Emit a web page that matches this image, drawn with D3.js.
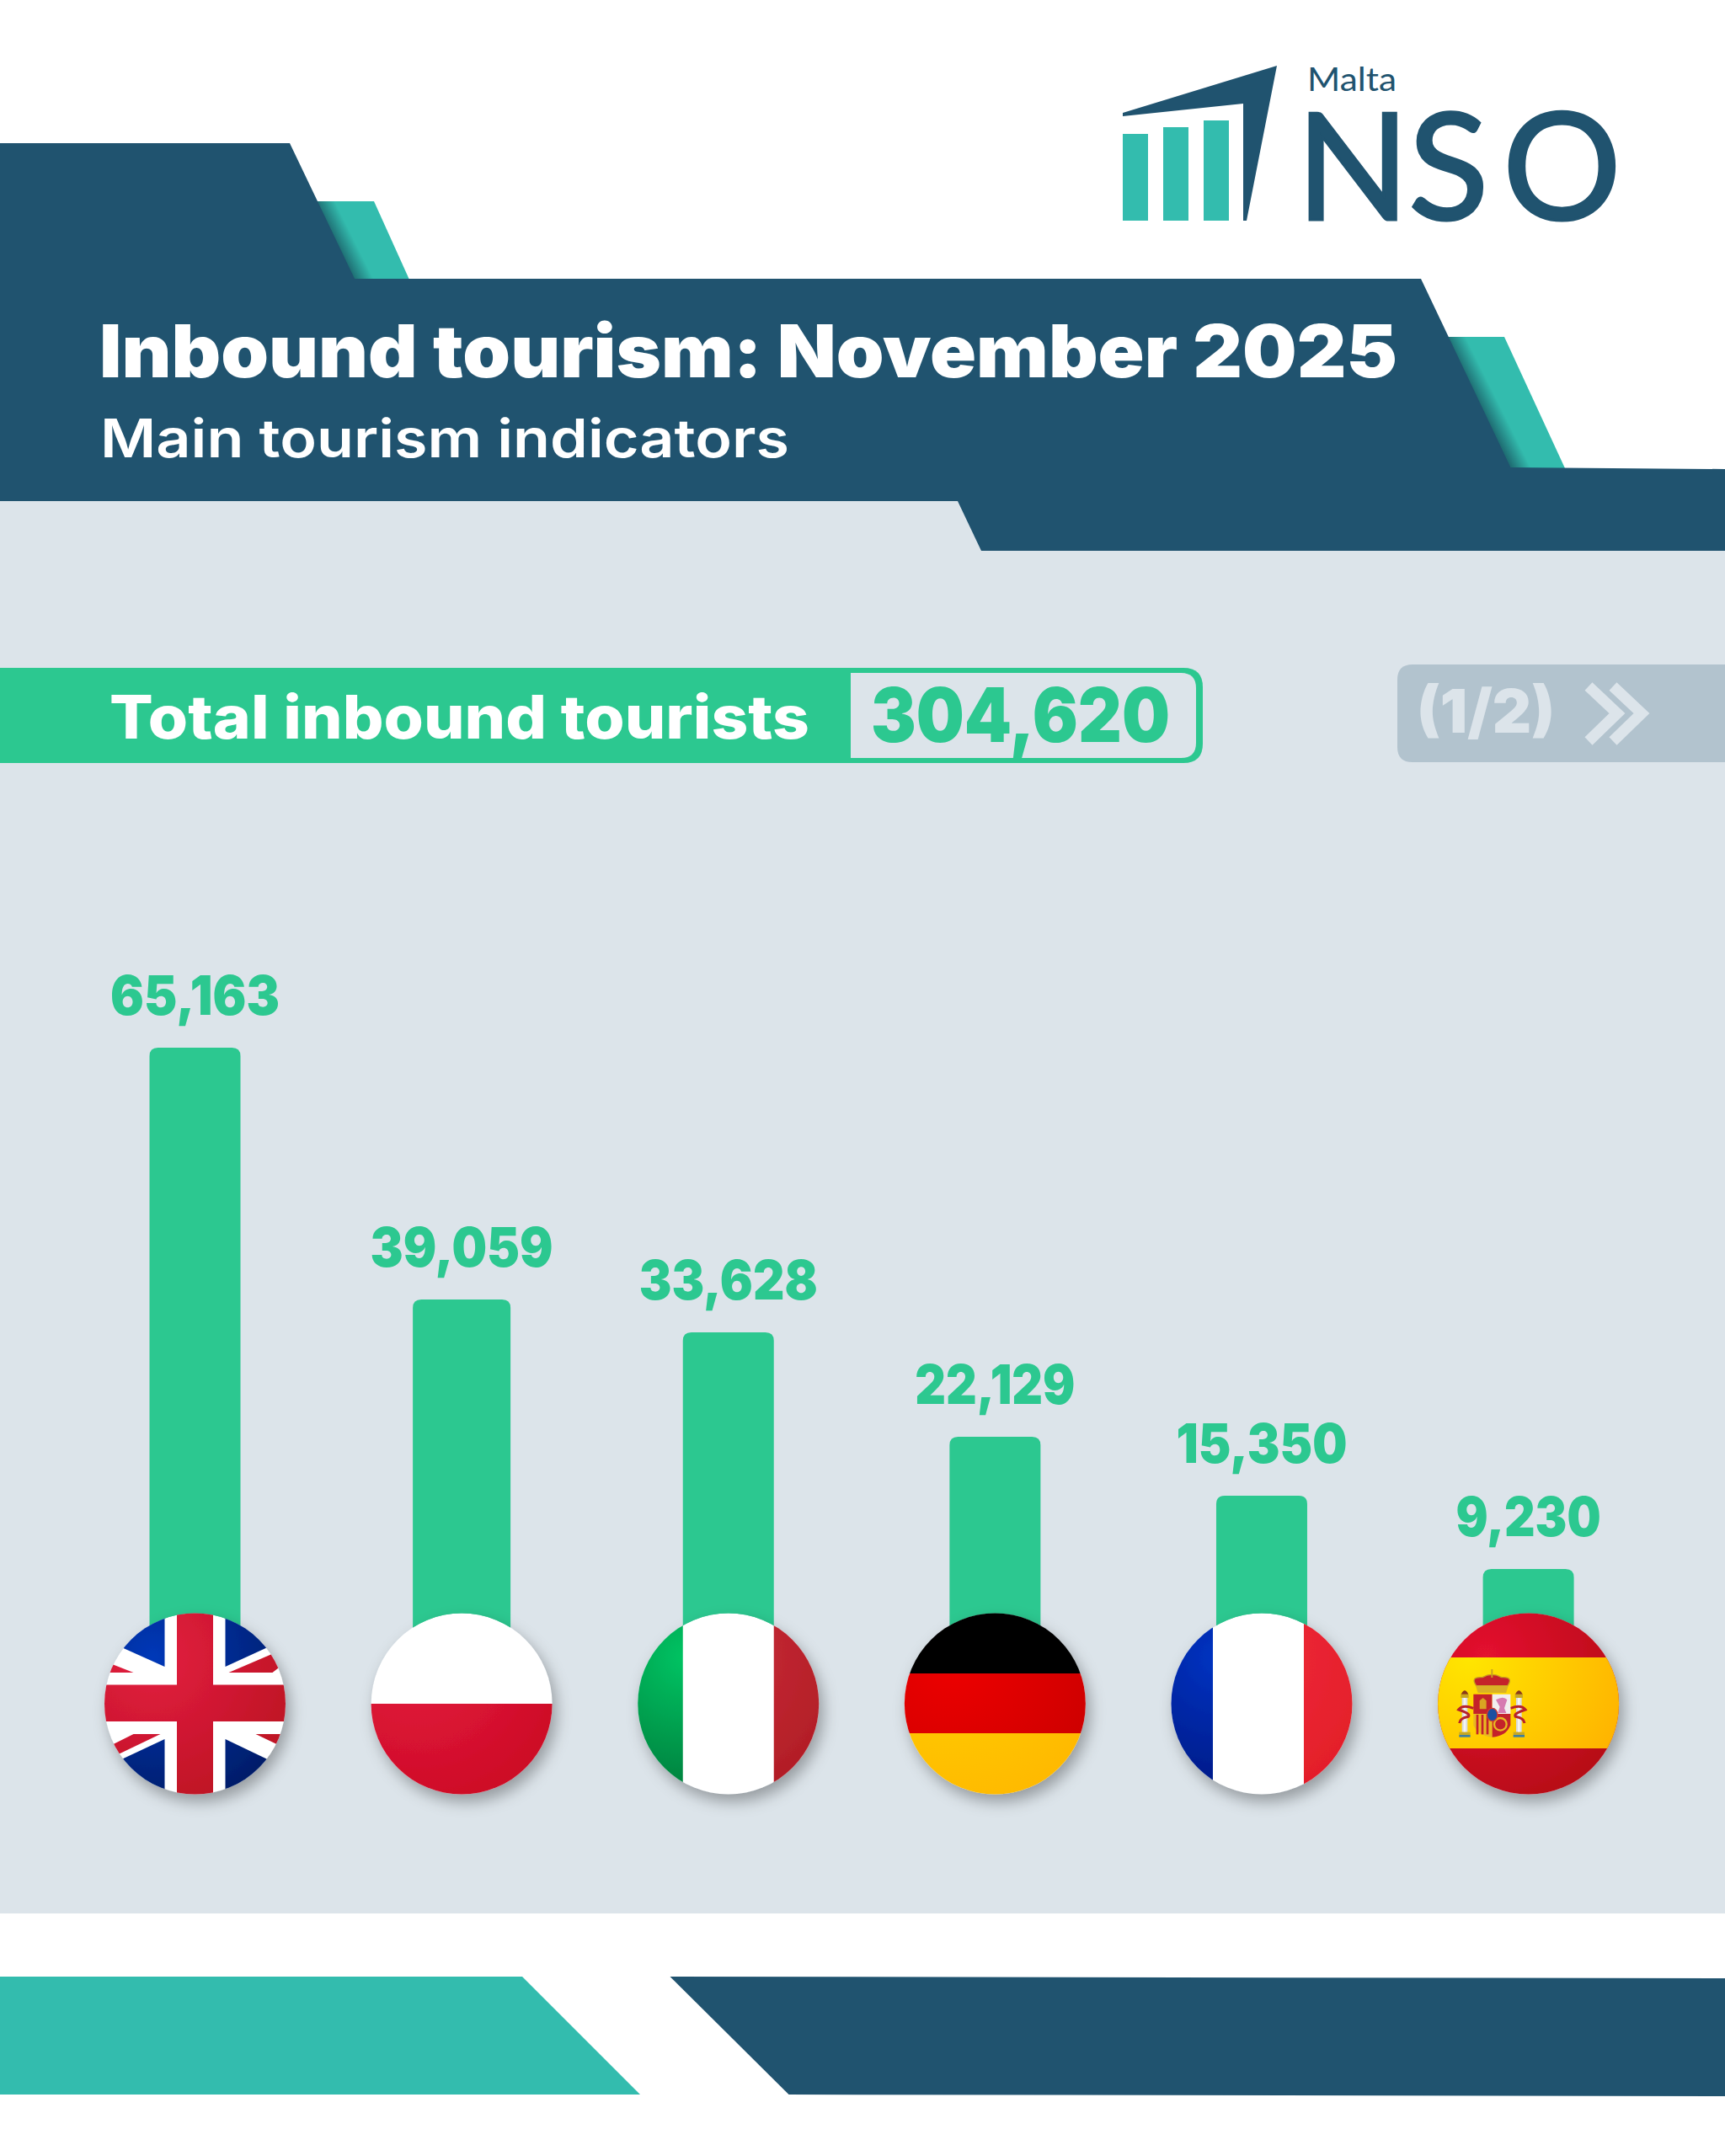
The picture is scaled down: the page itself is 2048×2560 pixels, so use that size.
<!DOCTYPE html>
<html><head><meta charset="utf-8">
<script src="https://cdn.jsdelivr.net/npm/d3@7"></script>
<style>html,body{margin:0;padding:0;background:#fff}svg{display:block}</style>
</head><body><div id="chart"></div>
<script>
// ---- data ----
const countries = ["United Kingdom","Poland","Italy","Germany","France","Spain"];
const tourists  = [65163,39059,33628,22129,15350,9230];           // printed labels
// Bar lengths as drawn in the reference, in tourists: its bars are not strictly proportional to the labels.
const drawnBars = [65163,39047,35639,24807,18693,11093];
const totalLabel = "Total inbound tourists";
const totalValue = 304620;
const titleText = "Inbound tourism: November 2025";
const subtitleText = "Main tourism indicators";
const pageLabel = "(1/2)";

const FONT = "Inter, 'Noto Sans', sans-serif";
const DARK="#20536f", TEAL="#33bcae", GREEN="#2cc890", GREY="#dce4ea";

const svg = d3.select("#chart").append("svg").attr("width",2048).attr("height",2560);
const defs = svg.append("defs");
const line = d3.line();
const poly = (p,fill,parent=svg)=>parent.append("path").attr("d",line(p)+"Z").attr("fill",fill);

function text(str,x,y,size,weight,fill,width,anchor="start",parent=svg){
  const t=parent.append("text").attr("x",x).attr("y",y).attr("font-family",FONT)
    .attr("font-size",size).attr("font-weight",weight).attr("fill",fill).attr("text-anchor",anchor).text(str);
  if(width) t.attr("textLength",width).attr("lengthAdjust","spacingAndGlyphs");
  return t;
}

// ---- background ----
svg.append("rect").attr("width",2048).attr("height",2560).attr("fill","#fff");
svg.append("rect").attr("y",590).attr("width",2048).attr("height",1682).attr("fill",GREY);

// ---- header accents ----
function edgeGrad(id,x1,y1,x2,y2){
  const g=defs.append("linearGradient").attr("id",id).attr("gradientUnits","userSpaceOnUse")
    .attr("x1",x1).attr("y1",y1).attr("x2",x2).attr("y2",y2);
  g.append("stop").attr("offset",0).attr("stop-color","#1f6f74");
  g.append("stop").attr("offset",1).attr("stop-color",TEAL);
}
edgeGrad("accL",398,285,416,276);
edgeGrad("accR",1756,477,1774,468);
poly([[370,239],[444,239],[486,332],[415,332]],"url(#accL)");
poly([[1712,400],[1786,400],[1858,556],[1790,556]],"url(#accR)");
poly([[0,170],[344,170],[421,331],[1687,331],[1793.5,555],[2048,557],[2048,654],[1165,654],[1137,595],[0,595]],DARK);

text(titleText,118,448,87,900,"#fff",1541);
text(subtitleText,119,543,63,600,"#fff",818);

// ---- logo ----
[[1333,159],[1381,151],[1429,143]].forEach(([x,y])=>
  svg.append("rect").attr("x",x).attr("y",y).attr("width",30).attr("height",262-y).attr("fill",TEAL));
poly([[1333,134],[1516,78],[1480,262],[1476,262],[1476,123],[1333,138]],DARK);
text("Malta",1552,108,39,400,DARK,106).attr("font-family","Lato, sans-serif");
const nso=svg.append("text").attr("y",261).attr("font-family","Lato, sans-serif").attr("font-size",176)
  .attr("fill",DARK).attr("stroke",DARK).attr("stroke-width",3);
[["N",1539],["S",1672],["O",1784]].forEach(([c,x])=>nso.append("tspan").attr("x",x).text(c));

// ---- total strip ----
svg.append("path").attr("d","M0,793H1405Q1428,793 1428,816V883Q1428,906 1405,906H0Z").attr("fill",GREEN);
svg.append("path").attr("d","M1010,799H1402Q1420,799 1420,817V882Q1420,900 1402,900H1010Z").attr("fill",GREY);
text(totalLabel,130,877,71,800,"#fff",831);
text(d3.format(",")(totalValue),1034,881,89,900,GREEN,355);

// ---- page marker ----
svg.append("path").attr("d","M2048,789H1677Q1659,789 1659,807V887Q1659,905 1677,905H2048Z").attr("fill","#b2c3ce");
text(pageLabel,1682,870,72,900,GREY,164);
[0,29].forEach(dx=>svg.append("path").attr("d",line([[1886+dx,815],[1920+dx,847],[1886+dx,880]]))
  .attr("fill","none").attr("stroke",GREY).attr("stroke-width",13));

// ---- bars ----
const rows = countries.map((c,i)=>({country:c,value:tourists[i],drawn:drawnBars[i]}));
const x = d3.scalePoint().domain(countries).range([231.5,1814.6]);
const y = d3.scaleLinear().domain([0,d3.max(drawnBars)]).range([1990,1244]);
const barW = c=>c==="Poland"?116:108;
svg.append("g").selectAll("path").data(rows).join("path")
  .attr("d",d=>{const w=barW(d.country),l=x(d.country)-w/2,t=y(d.drawn),r=10;
    return `M${l},${y(0)}V${t+r}Q${l},${t} ${l+r},${t}H${l+w-r}Q${l+w},${t} ${l+w},${t+r}V${y(0)}Z`;})
  .attr("fill",GREEN);
const labelWidth = [201,217,212,190,203,172];
svg.append("g").selectAll("text").data(rows).join("text")
  .attr("x",d=>x(d.country)).attr("y",d=>y(d.drawn)-39).attr("text-anchor","middle")
  .attr("font-family",FONT).attr("font-size",65).attr("font-weight",900).attr("fill",GREEN)
  .attr("textLength",(d,i)=>labelWidth[i]).attr("lengthAdjust","spacingAndGlyphs")
  .text(d=>d3.format(",")(d.value));

// ---- flags ----
const R=107.5, CY=2023;
const f=defs.append("filter").attr("id","sh").attr("x","-30%").attr("y","-30%").attr("width","160%").attr("height","160%");
f.append("feDropShadow").attr("dx",5).attr("dy",9).attr("stdDeviation",9).attr("flood-color","#000").attr("flood-opacity",.32);
let gid=0;
function grad(cx,c1,c2){
  const id="g"+(gid++);
  const g=defs.append("radialGradient").attr("id",id).attr("gradientUnits","userSpaceOnUse")
    .attr("cx",cx-50).attr("cy",CY-55).attr("r",235);
  g.append("stop").attr("offset",0).attr("stop-color",c1);
  g.append("stop").attr("offset",1).attr("stop-color",c2);
  return `url(#${id})`;
}
const flagG=svg.append("g");
const flag=(c)=>{
  const cx=x(c);
  const outer=flagG.append("g").attr("filter","url(#sh)");
  const cid="clip"+countries.indexOf(c);
  defs.append("clipPath").attr("id",cid).append("circle").attr("cx",cx).attr("cy",CY).attr("r",R);
  const g=outer.append("g").attr("clip-path",`url(#${cid})`);
  g.append("circle").attr("cx",cx).attr("cy",CY).attr("r",R).attr("fill","#fff");
  const band=(x0,y0,x1,y1,fill)=>g.append("rect").attr("x",cx+x0).attr("y",CY+y0).attr("width",x1-x0).attr("height",y1-y0).attr("fill",fill);
  return {cx,g,band};
};
// UK
(()=>{const {cx,g,band}=flag("United Kingdom");
  const P=(pts,fill)=>poly(pts.map(([a,b])=>[cx+a,CY+b]),fill,g);
  const navy=grad(cx,"#0038b8","#001552"), red=grad(cx,"#e31e40","#b30f1c");
  P([[-36,-44],[-36,-115],[-120,-115],[-120,-85],[-85,-66]],navy);
  P([[36,-44],[36,-115],[120,-115],[120,-88],[84,-66]],navy);
  P([[-36,42],[-36,115],[-120,115],[-120,85],[-85,65]],navy);
  P([[36,42],[36,115],[120,115],[120,85],[84,65]],navy);
  P([[-101,-48],[-73,-37],[-110,-37]],red);
  P([[40,-37],[72,-37],[92,-37],[115,-55],[96,-61]],red);
  P([[-73,36],[-41,36],[-91,60],[-97,48]],red);
  P([[72,36],[102,36],[97,48]],red);
  band(-21.5,-115,21.5,115,red);
  band(-115,-22.5,115,21,red);
})();
// Poland
(()=>{const {band,cx}=flag("Poland"); band(-115,0,115,115,grad(cx,"#e4173f","#c60b1e"));})();
// Italy
(()=>{const {band,cx}=flag("Italy");
  band(-115,-115,-54,115,grad(cx,"#00c463","#005f2b"));
  band(54,-115,115,115,grad(cx+20,"#cc2d3a","#a8181f"));})();
// Germany
(()=>{const {band,cx}=flag("Germany");
  band(-115,-115,115,-36,"#000");
  band(-115,-36,115,35,grad(cx,"#ee0000","#c40000"));
  band(-115,35,115,115,grad(cx,"#ffcf00","#ffb300"));})();
// France
(()=>{const {band,cx}=flag("France");
  band(-115,-115,-58,115,grad(cx,"#0033c2","#000e6a"));
  band(50,-115,115,115,grad(cx+20,"#f02b3a","#df1a24"));})();
// Spain
(()=>{const {band,cx,g}=flag("Spain");
  band(-115,-115,115,115,grad(cx,"#e4122f","#a90410"));
  band(-115,-55,115,53,grad(cx-20,"#ffe600","#ffaa00"));
  // coat of arms, drawn in a small local grid
  const a=g.append("g").attr("transform",`translate(${cx-104.6},${CY-63}) scale(${1/3})`);
  const rect=(x0,y0,x1,y1,fill)=>a.append("rect").attr("x",x0).attr("y",y0).attr("width",x1-x0).attr("height",y1-y0).attr("fill",fill);
  // pillars
  [[87],[280]].forEach(([c])=>{
    rect(c-10,165,c+10,290,"#d9dce0"); rect(c-4,165,c+4,290,"#f4f4f4");
    rect(c-14,155,c+14,168,"#c8a820");
    a.append("path").attr("d",`M${c-13},155Q${c},128 ${c+13},155Z`).attr("fill","#8a3a1a");
    rect(c-20,290,c+20,300,"#c8a820"); rect(c-20,300,c+20,308,"#3f7f9e");
  });
  // ribbons
  a.append("path").attr("d","M118,205Q80,190 65,210Q110,225 100,235Q70,240 68,258").attr("fill","none").attr("stroke","#b8202a").attr("stroke-width",9);
  a.append("path").attr("d","M250,205Q288,190 303,210Q258,225 268,235Q298,240 300,258").attr("fill","none").attr("stroke","#b8202a").attr("stroke-width",9);
  // crown
  a.append("path").attr("d","M128,125Q105,92 150,95Q184,75 218,95Q262,92 240,125Z").attr("fill","#c4202c").attr("stroke","#c8a020").attr("stroke-width",4);
  a.append("path").attr("d","M126,125H242L234,150H134Z").attr("fill","#d9b026");
  rect(181,66,187,96,"#c8a020");
  // shield
  a.append("path").attr("d","M118,155H185V225H118Z").attr("fill","#c4202c");
  a.append("path").attr("d","M185,155H250V225H185Z").attr("fill","#f2eeee");
  a.append("path").attr("d","M118,225H185V308Q135,305 118,265Z").attr("fill","#e8b820");
  [128,146,164].forEach(s=>rect(s,228,s+8,298,"#c4202c"));
  a.append("path").attr("d","M185,225H250V265Q235,305 185,308Z").attr("fill","#c4202c");
  a.append("circle").attr("cx",214).attr("cy",262).attr("r",22).attr("fill","none").attr("stroke","#e8b820").attr("stroke-width",7);
  a.append("path").attr("d","M198,175Q225,160 238,175L228,205L235,222H205L212,200Z").attr("fill","#d67ab0");
  a.append("path").attr("d","M140,208V178L152,168L164,178V208Z").attr("fill","#d9a420");
  a.append("ellipse").attr("cx",185).attr("cy",228).attr("rx",19).attr("ry",23).attr("fill","#1f4fa0").attr("stroke","#d9372c").attr("stroke-width",4);
})();

// ---- footer ----
poly([[0,2347],[620,2347],[760,2487],[0,2487]],TEAL);
poly([[795.5,2347],[2048,2349],[2048,2489],[936.5,2487]],DARK);
</script></body></html>
